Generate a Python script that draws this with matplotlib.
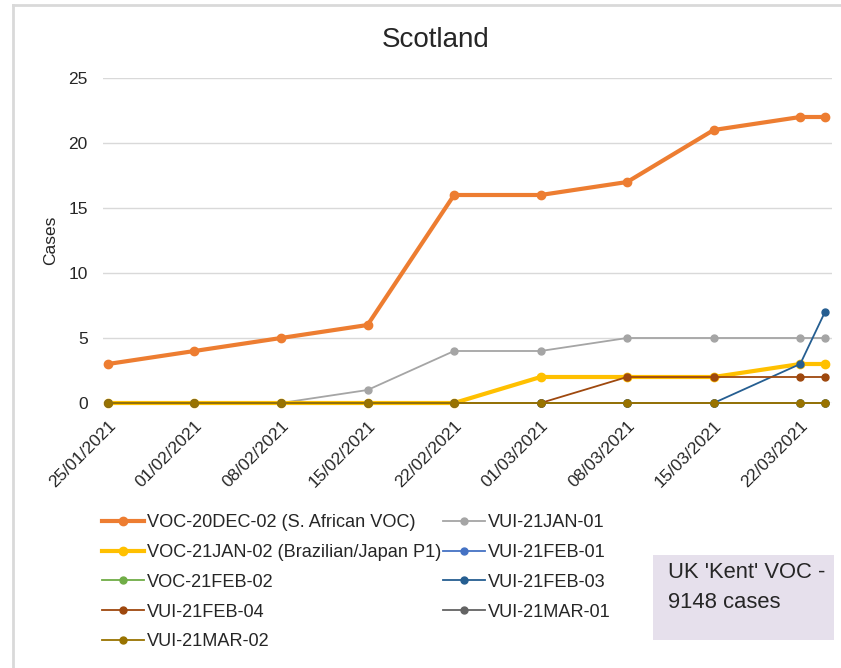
import matplotlib
matplotlib.use('Agg')
import matplotlib.pyplot as plt
import matplotlib.dates as mdates
from matplotlib.lines import Line2D
from matplotlib.patches import Rectangle
import pandas as pd

plt.rcParams['font.family'] = ['Liberation Sans', 'DejaVu Sans']

dates = pd.to_datetime(['2021-01-25', '2021-02-01', '2021-02-08', '2021-02-15',
                        '2021-02-22', '2021-03-01', '2021-03-08', '2021-03-15',
                        '2021-03-22', '2021-03-24'])

voc_20dec_02 = [3, 4, 5, 6, 16, 16, 17, 21, 22, 22]
vui_21jan_01 = [0, 0, 0, 1, 4, 4, 5, 5, 5, 5]
voc_21jan_02 = [0, 0, 0, 0, 0, 2, 2, 2, 3, 3]
vui_21feb_01 = [0, 0, 0, 0, 0, 0, 0, 0, 0, 0]
voc_21feb_02 = [0, 0, 0, 0, 0, 0, 0, 0, 0, 0]
vui_21feb_03 = [0, 0, 0, 0, 0, 0, 0, 0, 3, 7]
vui_21feb_04 = [0, 0, 0, 0, 0, 0, 2, 2, 2, 2]
vui_21mar_01 = [0, 0, 0, 0, 0, 0, 0, 0, 0, 0]
vui_21mar_02 = [0, 0, 0, 0, 0, 0, 0, 0, 0, 0]

series = [
    ('VOC-20DEC-02 (S. African VOC)', voc_20dec_02, '#ED7D31', 3.0, 6),
    ('VUI-21JAN-01', vui_21jan_01, '#A5A5A5', 1.3, 5),
    ('VOC-21JAN-02 (Brazilian/Japan P1)', voc_21jan_02, '#FFC000', 3.0, 6),
    ('VUI-21FEB-01', vui_21feb_01, '#4472C4', 1.3, 5),
    ('VOC-21FEB-02', voc_21feb_02, '#70AD47', 1.3, 5),
    ('VUI-21FEB-03', vui_21feb_03, '#255E91', 1.3, 5),
    ('VUI-21FEB-04', vui_21feb_04, '#9E480E', 1.3, 5),
    ('VUI-21MAR-01', vui_21mar_01, '#636363', 1.3, 5),
    ('VUI-21MAR-02', vui_21mar_02, '#997300', 1.3, 5),
]

fig = plt.figure(figsize=(8.41, 6.68), dpi=100)
ax = fig.add_axes([103 / 841, 1 - 403 / 668, (832 - 103) / 841, (403 - 78) / 668])

handles = []
for name, vals, col, lw, ms in series:
    h, = ax.plot(dates, vals, color=col, lw=lw, marker='o', ms=ms,
                 label=name, clip_on=False, zorder=3)
    handles.append(h)

ax.set_ylim(0, 25)
ax.set_yticks([0, 5, 10, 15, 20, 25])
ax.set_xlim(dates[0] - pd.Timedelta(days=0.4), dates[-1] + pd.Timedelta(days=0.57))
ax.set_xticks(pd.date_range('2021-01-25', '2021-03-22', freq='7D'))
ax.xaxis.set_major_formatter(mdates.DateFormatter('%d/%m/%Y'))
plt.setp(ax.get_xticklabels(), rotation=45, ha='right', rotation_mode='anchor')
ax.tick_params(axis='both', length=0, labelsize=12.5, colors='#262626', pad=11)
ax.tick_params(axis='x', pad=11)
ax.grid(axis='y', color='#D9D9D9', lw=1)
ax.set_axisbelow(True)
for s in ax.spines.values():
    s.set_visible(False)

ax.set_ylabel('Cases', fontsize=12.5, color='#262626', labelpad=7)
fig.text(436 / 841, 1 - 47 / 668, 'Scotland', fontsize=20, color='#262626',
         ha='center', va='baseline')

# legend in two columns, row-wise order
order = [0, 2, 4, 6, 8, 1, 3, 5, 7]
fig.legend([handles[i] for i in order], [series[i][0] for i in order],
           loc='upper left', bbox_to_anchor=(86 / 841, 1 - 498 / 668),
           ncol=2, frameon=False, fontsize=13.1, handlelength=2.3,
           handletextpad=0.15, columnspacing=0.1, labelspacing=0.7,
           labelcolor='#262626')

# text box
fig.add_artist(Rectangle((653 / 841, 1 - 640 / 668), (834 - 653) / 841, (640 - 555) / 668,
                         transform=fig.transFigure, facecolor='#E6E0EC', edgecolor='none'))
fig.text(668 / 841, 1 - 578 / 668, "UK 'Kent' VOC -", fontsize=15.8,
         va='baseline', ha='left', color='#262626')
fig.text(668 / 841, 1 - 608 / 668, "9148 cases", fontsize=15.8,
         va='baseline', ha='left', color='#262626')

# outer frame lines
fig.add_artist(Line2D([13 / 841, 13 / 841], [0, 1 - 5 / 668], transform=fig.transFigure,
                      color='#D9D9D9', lw=2))
fig.add_artist(Line2D([13 / 841, 1], [1 - 5 / 668, 1 - 5 / 668], transform=fig.transFigure,
                      color='#D9D9D9', lw=2))

fig.savefig('out.png', dpi=100)
